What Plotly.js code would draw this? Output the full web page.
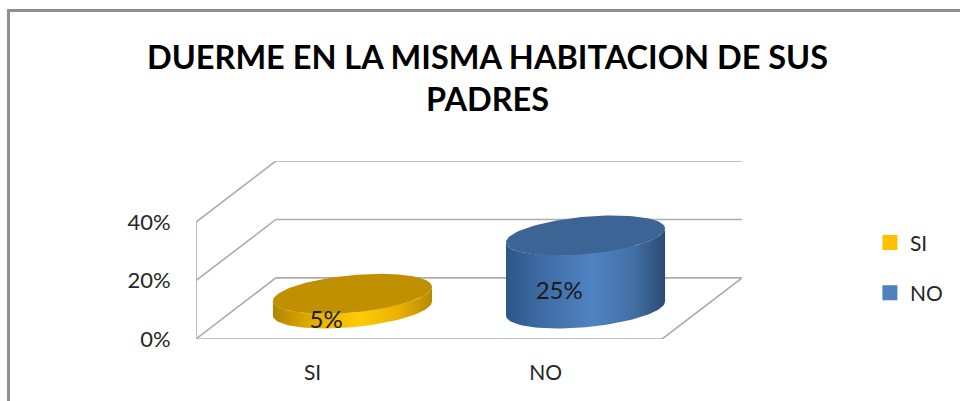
<!DOCTYPE html>
<html><head><meta charset="utf-8">
<script src="https://cdn.plot.ly/plotly-3.0.1.min.js"></script>
<style>
html,body{margin:0;padding:0;background:#fff;overflow:hidden}
#frame{position:absolute;left:7px;top:9px;width:960px;height:400px;border-left:3px solid #8f8f8f;border-top:3px solid #8f8f8f}
#chart{position:absolute;left:0;top:0;width:960px;height:401px}
</style></head><body>
<div id="frame"></div><div id="chart"></div>
<script>
const titleText = 'DUERME EN LA MISMA HABITACION DE SUS<br>PADRES';
const categories = ['SI', 'NO'];
const values = [5, 25];
const valueLabels = ['5%', '25%'];
const yTicks = [0, 20, 40];
const yTickLabels = ['0%', '20%', '40%'];
const barColors = ['#ffc000', '#4f81bd'];
const topColors = ['#c09000', '#3c6494'];
const bodyScales = [
  [[0,'#b08500'],[0.25,'#e5ad00'],[0.55,'#ffcb05'],[0.8,'#e8b000'],[1,'#b58a00']],
  [[0,'#2c5688'],[0.25,'#3f6ea6'],[0.55,'#5083c2'],[0.8,'#426fa5'],[1,'#2b4c74']]
];

// 3-D projection constants, in axis units
const depthX = 0.3426, depthY = 20.9, rx = 0.3413, tilt = 2.4, ry = 6.4;
const floorMidX = depthX / 2, floorMidY = depthY / 2;
const xMin = -0.5, xMax = categories.length - 0.5;
const wallColor = '#adadad';
const traces = [];

// Real bars (behind the cylinder skins); they also give the legend swatches
categories.forEach((c, i) => traces.push({
  type: 'bar', name: c, x: [i + floorMidX], y: [values[i]], base: floorMidY,
  width: rx * 1.2, marker: {color: barColors[i], line: {color: barColors[i], width: 3}},
  showlegend: true, hoverinfo: 'skip', legendgroup: c
}));

// Walls and floor
function wall(xs, ys) {
  traces.push({type: 'scatter', mode: 'lines', x: xs, y: ys, cliponaxis: false, showlegend: false,
    hoverinfo: 'skip', line: {color: wallColor, width: 1.6}});
}
wall([xMin, xMin], [yTicks[0], yTicks[yTicks.length - 1]]);
yTicks.forEach(g => wall([xMin, xMin + depthX, xMax + depthX], [g, g + depthY, g + depthY]));
wall([xMin, xMax, xMax + depthX], [0, 0, depthY]);

// Cylinders from values
function ellipsePoint(cx, cy, t) {
  return [cx + rx * Math.cos(t), cy + tilt * Math.cos(t) + ry * Math.sin(t)];
}
const N = 60;
categories.forEach((c, i) => {
  const cx = i + floorMidX, base = floorMidY, top = base + values[i];
  const bx = [], by = [];
  for (let k = 0; k <= N; k++) {
    const p = ellipsePoint(cx, base, -Math.PI * k / N); bx.push(p[0]); by.push(p[1]);
  }
  for (let k = 0; k <= N; k++) {
    const p = ellipsePoint(cx, top, -Math.PI + Math.PI * k / N); bx.push(p[0]); by.push(p[1]);
  }
  bx.push(bx[0]); by.push(by[0]);
  traces.push({type: 'scatter', mode: 'lines', x: bx, y: by, fill: 'toself', showlegend: false, hoverinfo: 'skip',
    cliponaxis: false, line: {width: 0, color: barColors[i]},
    fillgradient: {type: 'horizontal', colorscale: bodyScales[i]}});
  const tx = [], ty = [];
  for (let k = 0; k <= 2 * N; k++) {
    const p = ellipsePoint(cx, top, Math.PI * k / N); tx.push(p[0]); ty.push(p[1]);
  }
  traces.push({type: 'scatter', mode: 'lines', x: tx, y: ty, fill: 'toself', fillcolor: topColors[i], showlegend: false,
    hoverinfo: 'skip', cliponaxis: false, line: {width: 0, color: topColors[i]}});
});

// Data labels
traces.push({type: 'scatter', mode: 'text', x: categories.map((c, i) => i + floorMidX - 0.113),
  y: values.map(v => floorMidY + v / 2 - 7.2), text: valueLabels, textposition: 'middle center',
  textfont: {family: 'Lato, sans-serif', size: 24, color: '#1a1a1a'}, showlegend: false, hoverinfo: 'skip', cliponaxis: false});

const layout = {
  width: 960, height: 401, autosize: false, showlegend: true,
  paper_bgcolor: 'rgba(0,0,0,0)', plot_bgcolor: 'rgba(0,0,0,0)',
  margin: {l: 196, r: 215.5, t: 161, b: 62, pad: 0},
  barmode: 'overlay',
  title: {text: titleText, x: 487.5 / 960, xanchor: 'center', y: 0.828, yanchor: 'top', yref: 'container',
    font: {family: 'Lato, sans-serif', size: 32.5, color: '#000', weight: 700}},
  xaxis: {range: [xMin, xMax + depthX], tickmode: 'array', tickvals: categories.map((c, i) => i), ticktext: categories,
    showgrid: false, zeroline: false, showline: false, ticks: 'outside', ticklen: 15, tickcolor: 'rgba(0,0,0,0)',
    tickfont: {family: 'Lato, sans-serif', size: 21, color: '#262626'}, fixedrange: true},
  yaxis: {range: [0, yTicks[yTicks.length - 1] + depthY], tickmode: 'array', tickvals: yTicks, ticktext: yTickLabels,
    showgrid: false, zeroline: false, showline: false, ticks: 'outside', ticklen: 20, tickcolor: 'rgba(0,0,0,0)',
    tickfont: {family: 'Lato, sans-serif', size: 22, color: '#262626'}, fixedrange: true},
  legend: {x: (873 - 196) / 548.5, xanchor: 'left', y: (339 - 222) / 178.5, yanchor: 'top', tracegroupgap: 20,
    bgcolor: 'rgba(0,0,0,0)', font: {family: 'Lato, sans-serif', size: 21, color: '#262626'}}
};
Plotly.newPlot('chart', traces, layout, {displayModeBar: false, staticPlot: true});
</script>
</body></html>
